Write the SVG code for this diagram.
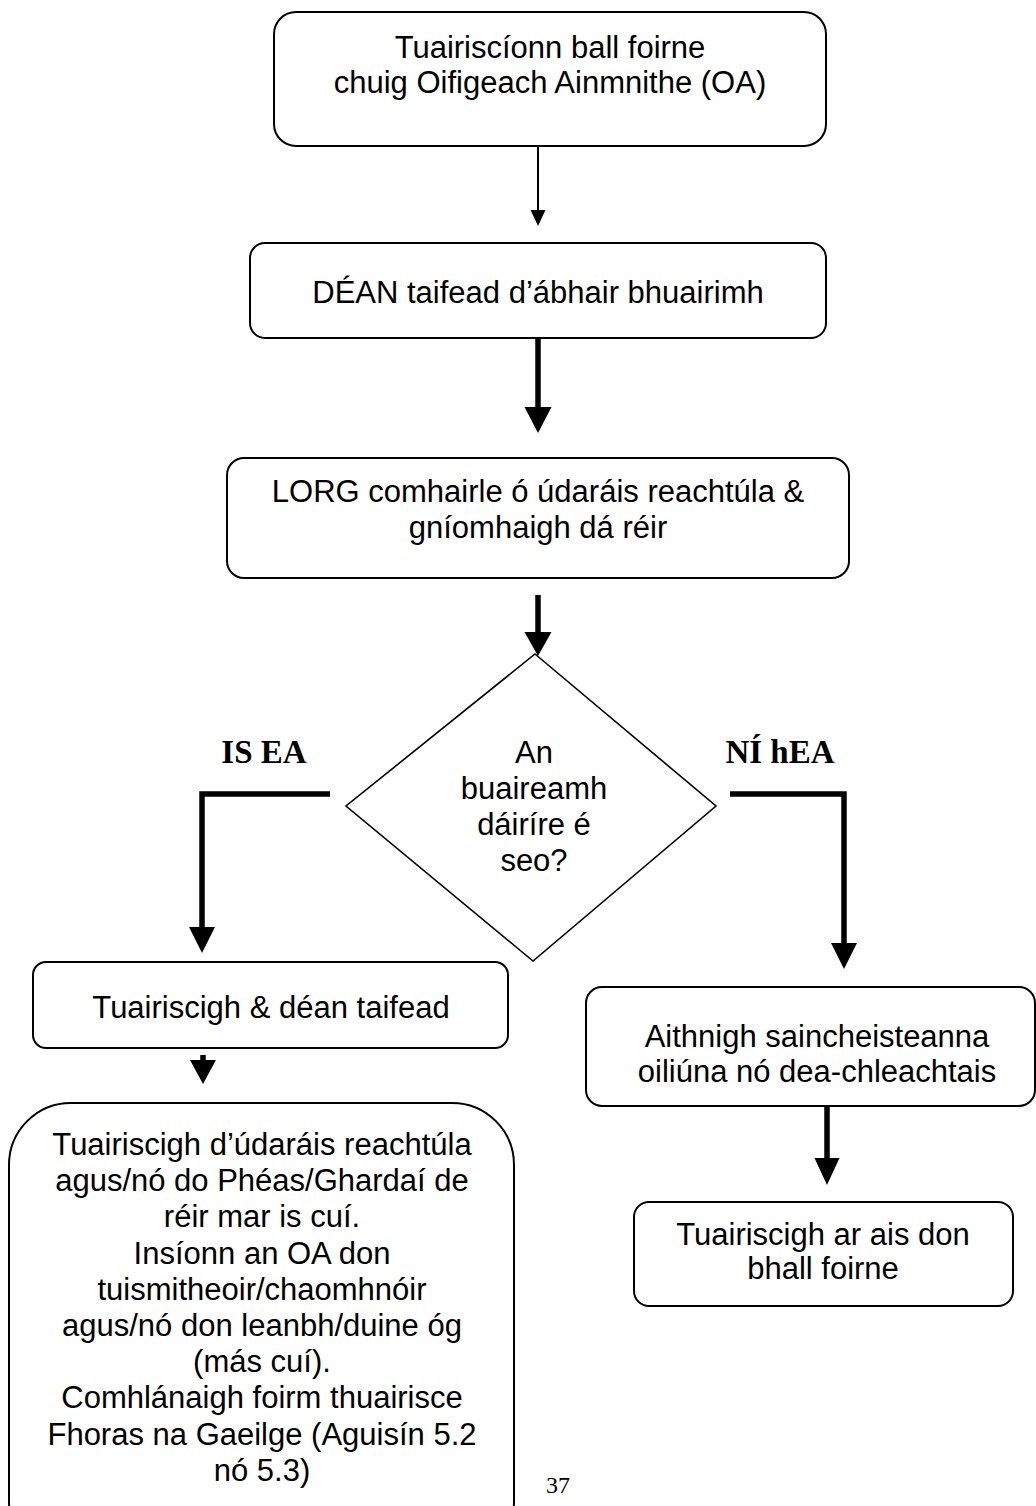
<svg xmlns="http://www.w3.org/2000/svg" width="1036" height="1506" viewBox="0 0 1036 1506">
<style>
.box{fill:#fff;stroke:#000;stroke-width:2}
.dia{fill:#fff;stroke:#000;stroke-width:1.6}
.t{font-family:"Liberation Sans",Arial,sans-serif;font-size:31px;fill:#000;text-anchor:middle}
.lbl{font-family:"Liberation Serif","Times New Roman",serif;font-size:33px;font-weight:bold;fill:#000;text-anchor:middle}
.pg{font-family:"Liberation Serif","Times New Roman",serif;font-size:24px;fill:#000;text-anchor:middle}
.thin{fill:none;stroke:#000;stroke-width:2}
.thick{fill:none;stroke:#000;stroke-width:5.5;stroke-linejoin:miter;stroke-linecap:butt}
.head{fill:#000;stroke:none}
</style>
<rect width="1036" height="1506" fill="#fff"/>

<g id="connectors">
  <line class="thin" x1="538" y1="146" x2="538" y2="212"/>
  <path class="head" d="M530.5,210 L545.5,210 L538,226 Z"/>
  <line class="thick" x1="538" y1="338" x2="538" y2="409"/>
  <path class="head" d="M524.5,407 L551.5,407 L538,433 Z"/>
  <line class="thick" x1="538" y1="595" x2="538" y2="634"/>
  <path class="head" d="M524.5,632 L551.5,632 L538,656 Z"/>
  <polyline class="thick" points="330,794 202,794 202,929"/>
  <path class="head" d="M189,927 L215,927 L202,953 Z"/>
  <polyline class="thick" points="730,794 844,794 844,945"/>
  <path class="head" d="M831,943 L857,943 L844,969 Z"/>
  <line class="thick" x1="203" y1="1055" x2="203" y2="1062"/>
  <path class="head" d="M190,1060 L216,1060 L203,1084 Z"/>
  <line class="thick" x1="827" y1="1106" x2="827" y2="1160"/>
  <path class="head" d="M814.5,1158 L839.5,1158 L827,1185 Z"/>
</g>

<g id="node-report-to-oa">
  <rect class="box" x="274" y="12" width="552" height="134" rx="22"/>
  <text class="t" x="550" y="58">Tuairiscíonn ball foirne</text>
  <text class="t" x="550" y="93">chuig Oifigeach Ainmnithe (OA)</text>
</g>

<g id="node-record">
  <rect class="box" x="250" y="243" width="576" height="95" rx="15"/>
  <text class="t" x="538" y="303">DÉAN taifead d’ábhair bhuairimh</text>
</g>

<g id="node-seek-advice">
  <rect class="box" x="227" y="458" width="622" height="120" rx="17"/>
  <text class="t" x="538" y="502">LORG comhairle ó údaráis reachtúla &amp;</text>
  <text class="t" x="538" y="538">gníomhaigh dá réir</text>
</g>

<g id="node-decision">
  <polygon class="dia" points="535,654 716,806 533,961 346,806"/>
  <text class="t" x="534" y="763">An</text>
  <text class="t" x="534" y="799">buaireamh</text>
  <text class="t" x="534" y="835">dáiríre é</text>
  <text class="t" x="534" y="871">seo?</text>
</g>

<g id="label-yes">
  <text class="lbl" x="264" y="763">IS EA</text>
</g>
<g id="label-no">
  <text class="lbl" x="780" y="763">NÍ hEA</text>
</g>

<g id="node-report-record">
  <rect class="box" x="33" y="962" width="475" height="86" rx="13"/>
  <text class="t" x="271" y="1018">Tuairiscigh &amp; déan taifead</text>
</g>

<g id="node-report-authorities">
  <rect class="box" x="9" y="1103" width="505" height="460" rx="62"/>
  <text class="t" x="262" y="1155">Tuairiscigh d’údaráis reachtúla</text>
  <text class="t" x="262" y="1191">agus/nó do Phéas/Ghardaí de</text>
  <text class="t" x="262" y="1227">réir mar is cuí.</text>
  <text class="t" x="262" y="1264">Insíonn an OA don</text>
  <text class="t" x="262" y="1300">tuismitheoir/chaomhnóir</text>
  <text class="t" x="262" y="1336">agus/nó don leanbh/duine óg</text>
  <text class="t" x="262" y="1372">(más cuí).</text>
  <text class="t" x="262" y="1408">Comhlánaigh foirm thuairisce</text>
  <text class="t" x="262" y="1445">Fhoras na Gaeilge (Aguisín 5.2</text>
  <text class="t" x="262" y="1481">nó 5.3)</text>
</g>

<g id="node-identify-training">
  <rect class="box" x="586" y="987" width="449" height="119" rx="16"/>
  <text class="t" x="817" y="1047">Aithnigh saincheisteanna</text>
  <text class="t" x="817" y="1082">oiliúna nó dea-chleachtais</text>
</g>

<g id="node-report-back">
  <rect class="box" x="634" y="1202" width="379" height="104" rx="15"/>
  <text class="t" x="823" y="1245">Tuairiscigh ar ais don</text>
  <text class="t" x="823" y="1279">bhall foirne</text>
</g>

<g id="page-number">
  <text class="pg" x="558" y="1493">37</text>
</g>
</svg>
